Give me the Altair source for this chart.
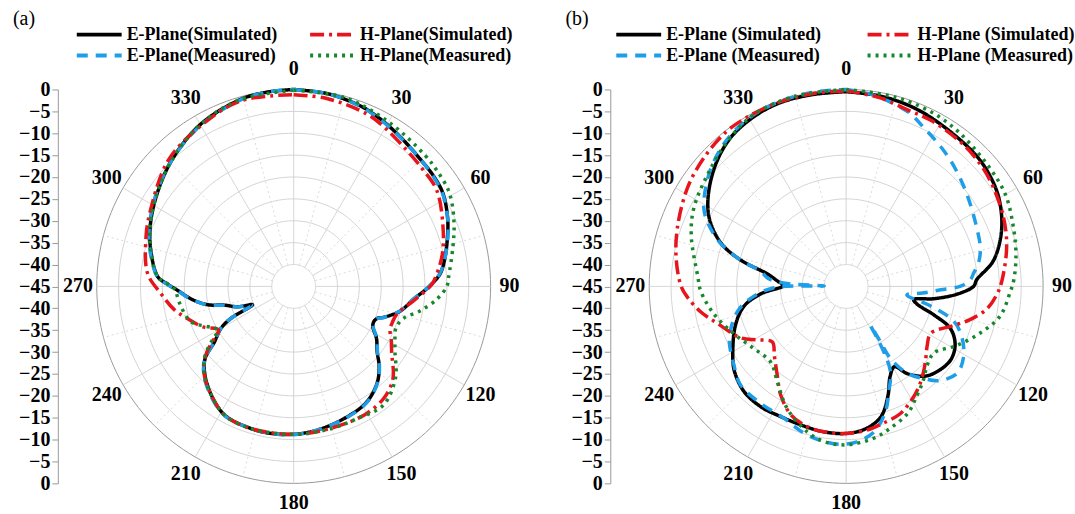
import altair as alt
import pandas as pd

# ---------------- Panel (a) ----------------
a_names = ["E-Plane(Simulated)", "E-Plane(Measured)", "H-Plane(Simulated)", "H-Plane(Measured)"]

a_es_ang = [0, 10, 20, 25, 30, 36, 45, 52, 58, 66, 73, 80, 85, 90, 96, 103, 109, 111, 114, 117, 122, 128,
            133, 139, 148, 159, 170, 180, 190, 197, 208, 217, 226, 231, 235, 240, 243, 246, 250, 255, 258,
            263, 268, 271, 274, 283, 292, 303, 316, 330, 344, 352, 360]
a_es_db = [0, -0.3, -1.0, -1.6, -2.3, -3.1, -4.0, -4.3, -4.8, -6.5, -8.3, -10.0, -11.4, -14.0, -17.4, -20.0,
           -23.3, -24.6, -25.0, -24.7, -22.7, -20.8, -18.3, -15.9, -13.7, -12.7, -11.8, -11.2, -11.0, -11.1,
           -11.6, -13.8, -16.7, -19.0, -22.9, -25.8, -28.9, -34.7, -31.4, -28.5, -24.9, -21.4, -18.5, -16.2,
           -13.9, -11.6, -9.6, -7.5, -4.9, -2.3, -0.6, -0.2, 0]

a_em_ang = [0, 10, 20, 25, 30, 36, 45, 52, 58, 66, 73, 80, 85, 90, 96, 103, 109, 111, 114, 117, 122, 128,
            133, 139, 148, 159, 170, 180, 190, 197, 208, 217, 226, 231, 235, 240, 243, 246, 250, 255, 258,
            263, 268, 271, 274, 283, 292, 303, 316, 330, 344, 352, 360]
a_em_db = [0, -0.3, -1.1, -1.7, -2.4, -3.2, -4.0, -4.4, -4.9, -6.5, -8.2, -10.0, -11.5, -14.1, -17.5, -20.1,
           -23.2, -24.5, -24.9, -24.6, -22.6, -20.7, -18.2, -15.8, -13.6, -12.6, -11.8, -11.1, -11.0, -11.1,
           -11.5, -13.6, -16.4, -19.0, -22.8, -25.7, -28.8, -34.5, -31.3, -28.4, -24.8, -21.3, -18.4, -16.1,
           -13.8, -11.4, -9.4, -7.3, -4.9, -2.5, -0.7, -0.2, 0]

a_hs_ang = [0, 10, 23, 30, 40, 48, 56, 67, 78, 88, 90, 97, 105, 110, 114, 119, 124, 133, 141, 151, 165,
            180, 197, 208, 217, 226, 232, 237, 240, 246, 253, 259, 267, 275, 288, 297, 315, 330, 344, 360]
a_hs_db = [-1.2, -1.4, -2.2, -3.2, -4.6, -5.2, -5.6, -8.0, -10.3, -13.0, -13.8, -17.5, -20.6, -21.0, -20.9,
           -19.5, -18.0, -14.0, -12.2, -11.5, -11.5, -11.2, -11.1, -11.6, -13.8, -16.5, -19.5, -23.5, -25.2,
           -22.3, -19.7, -17.2, -14.6, -11.5, -9.5, -8.1, -4.4, -2.6, -0.9, -1.2]

a_hm_ang = [0, 15, 30, 45, 51, 59, 68, 76, 87, 90, 95, 101, 106, 112, 118, 123, 132, 143, 154, 165, 180,
            197, 208, 217, 226, 232, 237, 240, 251, 262, 269, 274, 283, 292, 303, 316, 330, 344, 360]
a_hm_db = [-0.2, -0.3, -1.6, -2.6, -2.9, -3.5, -5.5, -7.5, -9.6, -10.0, -12.1, -15.6, -18.8, -19.8, -18.8,
           -17.4, -13.7, -11.0, -11.5, -11.4, -11.2, -11.1, -11.6, -13.8, -16.5, -19.3, -23.0, -25.0, -20.2,
           -18.6, -17.7, -13.9, -11.6, -9.6, -7.5, -4.9, -2.3, -0.6, -0.2]

# ---------------- Panel (b) ----------------
b_names = ["E-Plane (Simulated)", "E-Plane (Measured)", "H-Plane (Simulated)", "H-Plane (Measured)"]

b_es_ang = [0, 10, 20, 30, 44, 52, 60, 70, 80, 87, 90, 94, 98, 101, 104, 108, 112, 118, 125, 133, 139, 145,
            149, 154, 159, 165, 172, 180, 189, 198, 207, 215, 224, 233, 241, 251, 259, 265, 271, 274, 279,
            284, 289, 296, 303, 313, 322, 331, 340, 350, 360]
b_es_db = [-0.5, -0.8, -1.3, -2.1, -2.8, -3.5, -4.7, -7.2, -10.8, -15.1, -15.9, -19.6, -24.8, -29.3, -28.3,
           -23.9, -19.3, -16.8, -15.8, -16.5, -17.8, -20.7, -23.6, -22.1, -18.3, -14.2, -12.2, -11.4, -11.4,
           -11.7, -11.7, -11.3, -11.5, -13.0, -15.4, -18.3, -21.2, -25.4, -30.8, -29.5, -26.8, -20.2, -14.8,
           -10.3, -7.4, -4.2, -2.0, -0.9, -0.4, -0.5, -0.5]

b_em_ang = [0, 8, 13, 20, 26, 33, 40, 48, 56, 65, 74, 80, 84, 87, 90, 92, 95, 98, 103, 108, 114, 121, 128,
            135, 140, 145, 148.4, 148.2, 147.9, 150, 152.6, 158, 162.6, 169, 176, 182, 188, 196, 205, 216,
            227, 235, 246, 257, 263, 269, 271, 273, 276, 280, 284, 289, 295, 299, 306, 313, 322, 331, 340,
            350, 360]
b_em_db = [0, -0.8, -1.6, -2.8, -4.6, -6.2, -7.7, -9.4, -10.9, -12.2, -13.1, -14.3, -15.7, -16.6, -19.0,
           -23.4, -27.5, -31.0, -25.3, -19.1, -16.0, -13.7, -12.8, -14.6, -17.5, -20.9, -25.7, -30.1, -34.5,
           -28.0, -23.0, -19.0, -15.0, -11.2, -9.4, -8.9, -9.2, -10.1, -11.7, -11.9, -12.0, -13.7, -15.8,
           -19.5, -23.1, -28.5, -40.0, -31.0, -27.0, -25.2, -20.2, -14.6, -10.0, -7.8, -5.5, -3.5, -1.6,
           -0.5, -0.1, 0, 0]

b_hs_ang = [0, 10, 19, 27, 38, 46, 54, 66, 76, 88, 93, 99, 105, 110, 119, 126, 132, 138, 145, 151, 157, 165,
            172, 180, 188, 195, 203, 211, 218, 226, 233, 239, 244, 254, 260, 266, 270, 279, 289, 302, 312,
            322, 330, 340, 350, 360]
b_hs_db = [-0.3, -1.2, -2.3, -2.4, -2.9, -3.4, -4.2, -5.7, -7.2, -9.4, -10.5, -12.4, -15.7, -18.9, -22.9,
           -22.1, -20.5, -18.6, -16.4, -14.8, -13.4, -12.6, -11.8, -11.4, -11.4, -11.7, -13.0, -16.0, -19.4,
           -22.2, -23.9, -21.3, -18.2, -14.4, -11.3, -8.7, -7.3, -5.7, -4.2, -2.3, -1.2, -0.3, -0.2, -0.2,
           -0.3, -0.3]

b_hm_ang = [0, 15, 29, 42, 59, 70, 80, 88, 92, 101, 109, 118, 127, 134, 141, 147, 154, 163, 170, 180, 188,
            195, 206, 216, 225, 236, 247, 258, 268, 274, 288, 297, 309, 321, 332, 345, 360]
b_hm_db = [0, -0.3, -0.8, -1.9, -2.9, -4.4, -5.6, -6.7, -7.5, -9.2, -12.5, -16.3, -19.8, -19.2, -17.1,
           -15.3, -12.8, -11.0, -9.7, -8.8, -9.2, -10.6, -14.1, -18.2, -20.6, -19.6, -17.2, -14.2, -11.8,
           -11.0, -7.8, -5.9, -4.3, -2.1, -0.4, 0, 0]

# ---------------- grid / labels ----------------
ring_db = [-40, -35, -30, -25, -20, -15, -10, -5, 0]
spoke_major = [0, 30, 60, 90, 120, 150, 180, 210, 240, 270, 300, 330]
spoke_minor = [15, 45, 75, 105, 135, 165, 195, 225, 255, 285, 315, 345]
angle_labels = [0, 30, 60, 90, 120, 150, 180, 210, 240, 270, 300, 330]
radial_ticks = list(range(-45, 50, 5))
ring_steps = list(range(0, 362, 2))   # sampling of the grid circles (degrees)

# order: E sim, E meas, H sim, H meas
colors = ["#000000", "#1e9de8", "#e8141c", "#16882b"]
dashes = [[1, 0], [11, 8], [14, 5, 3, 5], [3, 5]]

SERIF = "Liberation Serif"
PLOT = 395

XS = alt.Scale(domain=[-45, 45], nice=False, zero=False)
YS = alt.Scale(domain=[-45, 45], nice=False, zero=False)
Y_AXIS = alt.Axis(values=radial_ticks, labelExpr="format(abs(datum.value)-45,'d')", offset=39, grid=False,
                  domainColor="#9a9a9a", tickColor="#9a9a9a", tickSize=6, labelFont=SERIF,
                  labelFontWeight="bold", labelFontSize=20, labelColor="black", title=None,
                  labelPadding=2, labelOverlap=False, labelFlush=False)


def curves_df(names, data):
    rows = []
    for k in [0, 1, 2, 3]:
        angs, dbs = data[k]
        for i, (a, d) in enumerate(zip(angs, dbs)):
            rows.append({"series": names[k], "k": k, "i": i, "angle": a, "db": d})
    return pd.DataFrame(rows)


def rings_df():
    rows = []
    for d in ring_db:
        for i, a in enumerate(ring_steps):
            rows.append({"db": d, "i": i, "angle": a, "outer": 1 if d == 0 else 0})
    return pd.DataFrame(rows)


def panel(names, data, label, legend_x, legend_y, col_pad):
    rings = alt.Chart(rings_df()).transform_calculate(
        x="(datum.db+45)*sin(datum.angle*PI/180)",
        y="(datum.db+45)*cos(datum.angle*PI/180)",
    ).mark_line(strokeWidth=1).encode(
        x=alt.X("x:Q", scale=XS, axis=None),
        y=alt.Y("y:Q", scale=YS, axis=Y_AXIS),
        detail="db:N",
        order=alt.Order("i:Q"),
        stroke=alt.condition(alt.datum.outer == 1, alt.value("#9a9a9a"), alt.value("#d4d4d4")),
    )

    sp_df = pd.DataFrame({"ang": spoke_major + spoke_minor,
                          "minor": [0] * len(spoke_major) + [1] * len(spoke_minor)})
    spokes = alt.Chart(sp_df).transform_calculate(
        x1="5*sin(datum.ang*PI/180)", y1="5*cos(datum.ang*PI/180)",
        x2="45*sin(datum.ang*PI/180)", y2="45*cos(datum.ang*PI/180)",
    ).mark_rule(strokeWidth=1).encode(
        x=alt.X("x1:Q", scale=XS, axis=None),
        y=alt.Y("y1:Q", scale=YS, axis=Y_AXIS),
        x2="x2:Q", y2="y2:Q",
        stroke=alt.condition(alt.datum.minor == 1, alt.value("#dadada"), alt.value("#cfcfcf")),
        strokeDash=alt.condition(alt.datum.minor == 1, alt.value([2, 3]), alt.value([1, 0])),
    )

    lab_df = pd.DataFrame({"ang": angle_labels})
    labels = alt.Chart(lab_df).transform_calculate(
        lx="49.3*sin(datum.ang*PI/180)", ly="49.6*cos(datum.ang*PI/180)", t="''+datum.ang"
    ).mark_text(font=SERIF, fontSize=20, fontWeight="bold", color="black",
                align="center", baseline="middle").encode(
        x=alt.X("lx:Q", scale=XS, axis=None),
        y=alt.Y("ly:Q", scale=YS, axis=Y_AXIS),
        text="t:N",
    )

    leg = alt.Legend(title=None, orient="none", legendX=legend_x, legendY=legend_y, columns=2,
                     columnPadding=col_pad, rowPadding=1, symbolType="M-2.5,0H2.5", symbolSize=324,
                     symbolStrokeWidth=4, labelFont=SERIF, labelFontSize=18, labelFontWeight="bold",
                     labelColor="black", labelOffset=16.5, labelLimit=400)

    cdf = curves_df(names, data)
    curves = alt.Chart(cdf).transform_calculate(
        x="(datum.db+45)*sin(datum.angle*PI/180)",
        y="(datum.db+45)*cos(datum.angle*PI/180)",
    ).mark_line(strokeWidth=3.5, interpolate="catmull-rom").encode(
        x=alt.X("x:Q", scale=XS, axis=None),
        y=alt.Y("y:Q", scale=YS, axis=Y_AXIS),
        color=alt.Color("series:N", scale=alt.Scale(domain=names, range=colors), legend=leg),
        strokeDash=alt.StrokeDash("series:N", scale=alt.Scale(domain=names, range=dashes), legend=leg),
        order=alt.Order("i:Q"),
    )

    return alt.layer(rings, spokes, labels, curves).properties(
        width=PLOT, height=PLOT,
        title=alt.TitleParams(label, anchor="start", frame="group", dx=-84, dy=9, font=SERIF,
                              fontSize=20, fontWeight="normal", color="black"),
    )


pa = panel(a_names, [(a_es_ang, a_es_db), (a_em_ang, a_em_db), (a_hs_ang, a_hs_db), (a_hm_ang, a_hm_db)],
           "(a)", -8.5, -66, 24)
pb = panel(b_names, [(b_es_ang, b_es_db), (b_em_ang, b_em_db), (b_hs_ang, b_hs_db), (b_hm_ang, b_hm_db)],
           "(b)", -21.5, -66, 38)

chart = alt.hconcat(pa, pb, spacing=46).resolve_scale(
    color="independent", strokeDash="independent"
).properties(
    background="white",
    padding={"left": 13, "top": 8, "right": 0, "bottom": 0},
).configure_view(stroke=None)

chart.save("out.html", embed_options={"renderer": "svg", "actions": False})
